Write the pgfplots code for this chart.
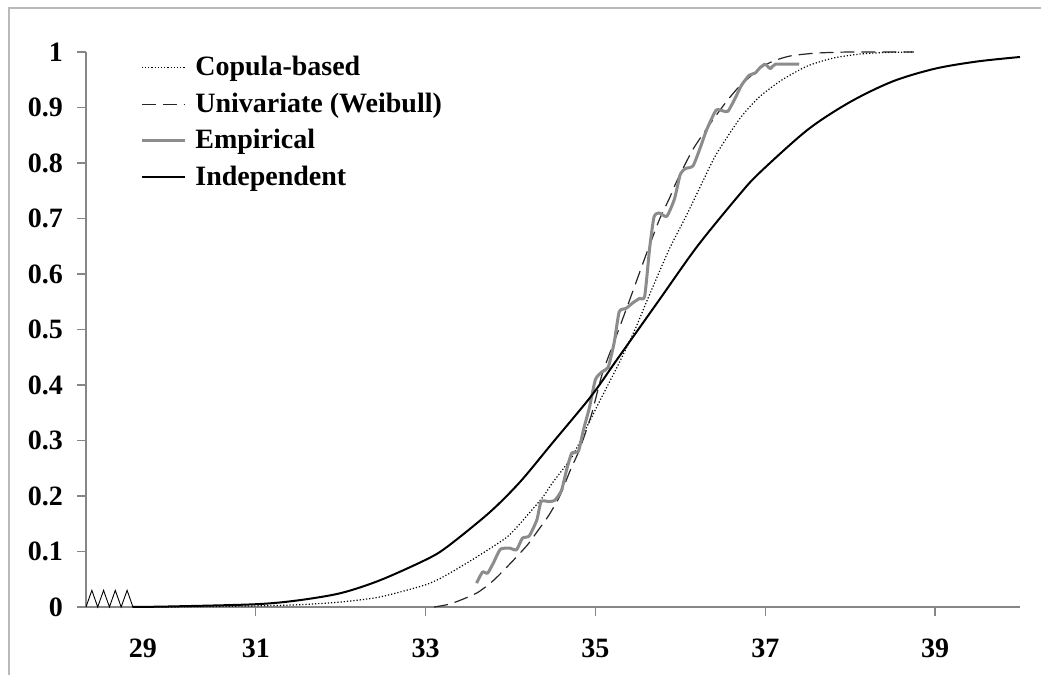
\documentclass[border=0pt]{standalone}
\usepackage{fontspec}
\setmainfont{Liberation Serif}
\usepackage{pgfplots}
\pgfplotsset{compat=1.18}
\definecolor{axgray}{RGB}{134,134,134}
\definecolor{empgray}{RGB}{140,140,140}
\definecolor{framegray}{RGB}{185,185,185}
\begin{document}
\begin{tikzpicture}
\useasboundingbox (0,0) rectangle (520.5pt,337.5pt);
\fill[white] (0,0) rectangle (520.5pt,337.5pt);
\draw[framegray, line width=1pt] (4.5pt,-20pt) -- (4.5pt,333.5pt) -- (540pt,333.5pt);
\begin{axis}[
  at={(43pt,34pt)}, anchor=south west,
  scale only axis, width=467pt, height=277.5pt,
  xmin=29, xmax=40, ymin=0, ymax=1,
  axis lines*=left,
  axis line style={axgray, line width=0.7pt},
  tick style={axgray, line width=0.6pt},
  tick align=outside, major tick length=4.5pt,
  xtick={31,33,35,37,39},
  ytick={0,0.1,0.2,0.3,0.4,0.5,0.6,0.7,0.8,0.9,1},
  yticklabels={0,0.1,0.2,0.3,0.4,0.5,0.6,0.7,0.8,0.9,1},
  extra x ticks={29.67}, extra x tick labels={29},
  extra x tick style={tick style={draw=none}},
  /pgf/number format/assume math mode=true,
  ticklabel style={font=\fontsize{14}{16}\selectfont\bfseries},
  xticklabel style={yshift=-8pt},
  yticklabel style={xshift=-3.5pt},
  clip=false,
  legend style={at={(0.0578,0.998)}, anchor=north west, draw=none, fill=none,
    inner sep=0pt, row sep=4pt, font=\fontsize{14}{16}\selectfont\bfseries,
    nodes={inner sep=1.5pt}},
  legend cell align=left,
  legend image code/.code={\draw[#1] (0pt,0pt) -- (21.5pt,0pt); \path (24.5pt,0pt);},
]
% axis break zigzag
\addplot[black, line width=0.45pt, forget plot] coordinates {
(29,0) (29.069,0.03) (29.138,0) (29.207,0.03) (29.276,0) (29.345,0.03) (29.414,0) (29.484,0.03) (29.553,0)};

\addplot[black, line width=0.6pt, dash pattern=on 0.6pt off 1pt, smooth, tension=0.4] coordinates {
(29.55,0) (30.00,0.000) (31.00,0.002) (31.50,0.004) (32.00,0.009) (32.46,0.018)
(33.00,0.040) (33.25,0.058) (33.60,0.090) (33.95,0.125) (34.11,0.150) (34.38,0.198)
(34.49,0.223) (34.73,0.272) (34.89,0.322) (35.08,0.380) (35.28,0.440) (35.48,0.505)
(35.61,0.553) (35.87,0.645) (36.07,0.705) (36.28,0.772) (36.42,0.815) (36.70,0.880)
(36.93,0.919) (37.20,0.950) (37.50,0.975) (37.80,0.989) (38.10,0.996) (38.40,0.999)
(38.75,1.000)};
\addlegendentry{Copula-based}

\addplot[black!85, line width=0.6pt, dash pattern=on 7pt off 3.5pt, smooth, tension=0.4] coordinates {
(33.10,0.000) (33.30,0.006) (33.60,0.025) (33.80,0.048) (34.02,0.082) (34.20,0.112)
(34.31,0.135) (34.45,0.165) (34.58,0.200) (34.70,0.245) (34.81,0.283) (34.95,0.345)
(35.08,0.420) (35.25,0.490) (35.40,0.552) (35.58,0.628) (35.75,0.697) (35.87,0.736)
(35.96,0.768) (36.15,0.825) (36.38,0.877) (36.55,0.912) (36.69,0.937) (36.93,0.970)
(37.10,0.984) (37.30,0.993) (37.60,0.998) (38.00,1.000) (38.75,1.000)};
\addlegendentry{Univariate (Weibull)}

\addplot[empgray, line width=1.5pt, line join=round, smooth, tension=0.35] coordinates {
(33.60,0.043) (33.67,0.063) (33.73,0.061) (33.80,0.080) (33.88,0.104) (33.99,0.106)
(34.07,0.103) (34.14,0.124) (34.22,0.128) (34.31,0.157) (34.36,0.190) (34.45,0.190)
(34.52,0.192) (34.60,0.210) (34.66,0.247) (34.72,0.277) (34.80,0.281) (34.86,0.320)
(34.93,0.360) (35.00,0.410) (35.08,0.424) (35.15,0.432) (35.22,0.476) (35.28,0.532)
(35.36,0.538) (35.44,0.548) (35.52,0.556) (35.58,0.560) (35.64,0.649) (35.69,0.703)
(35.75,0.710) (35.84,0.704) (35.93,0.735) (36.00,0.780) (36.06,0.790) (36.15,0.795)
(36.24,0.830) (36.31,0.860) (36.42,0.895) (36.50,0.894) (36.56,0.893) (36.64,0.915)
(36.72,0.940) (36.81,0.958) (36.88,0.962) (36.94,0.972) (37.00,0.978) (37.06,0.970)
(37.12,0.978) (37.40,0.978)};
\addlegendentry{Empirical}

\addplot[black, line width=1pt, smooth, tension=0.5] coordinates {
(29.55,0) (30.00,0.001) (31.00,0.005) (31.50,0.012) (32.00,0.025) (32.46,0.048)
(33.00,0.085) (33.25,0.108) (33.75,0.170) (34.11,0.225) (34.49,0.295) (34.95,0.380)
(35.25,0.445) (35.75,0.553) (36.20,0.650) (36.69,0.742) (36.93,0.782) (37.50,0.860)
(38.00,0.910) (38.50,0.947) (39.00,0.970) (39.50,0.983) (40.00,0.991)};
\addlegendentry{Independent}
\end{axis}
\end{tikzpicture}
\end{document}
